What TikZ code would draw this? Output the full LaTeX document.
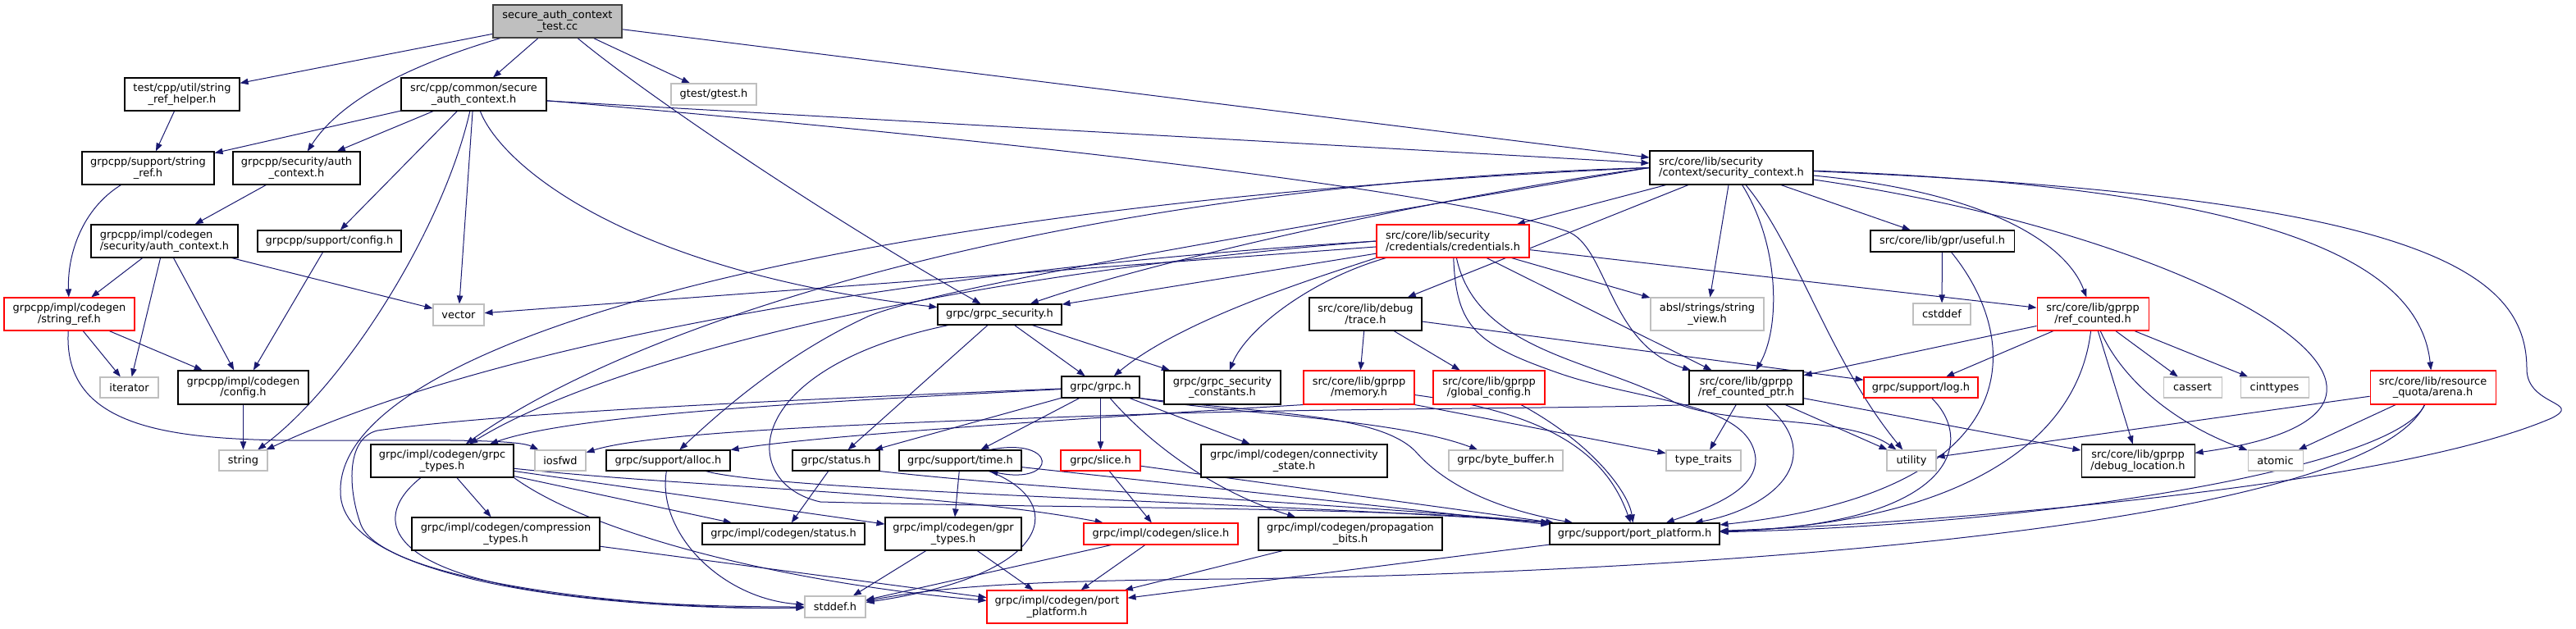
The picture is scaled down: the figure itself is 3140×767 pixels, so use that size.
\documentclass[tikz,border=0pt]{standalone}
\usepackage{fontspec}
\setmainfont{DejaVu Sans}
\usepackage{tikz}
\usetikzlibrary{arrows.meta,backgrounds}
\definecolor{edgeblue}{HTML}{191970}
\definecolor{truncred}{HTML}{FF0000}
\definecolor{sysgray}{HTML}{BFBFBF}
\definecolor{mainline}{HTML}{404040}
\tikzset{
  hdr/.style={draw=black, fill=white, line width=0.8pt, inner sep=0pt, align=center, font=\fontsize{9.7}{10.3}\selectfont},
  redhdr/.style={hdr, draw=truncred},
  syshdr/.style={hdr, draw=sysgray},
  mainhdr/.style={hdr, fill=sysgray, draw=mainline},
  sz/.style 2 args={minimum width=#1*0.75pt, minimum height=#2*0.75pt},
  dep/.style={draw=edgeblue, line width=0.75pt, -{Triangle[length=7.5pt,width=5.5pt]}}
}

\begin{document}
\begin{tikzpicture}[x=0.75pt,y=-0.75pt]
  \useasboundingbox (0,0) rectangle (3140,767);

  \node[mainhdr,sz={157}{40}] (test) at (679.5,26) {secure\_auth\_context\\\_test.cc};
  \node[hdr,sz={140}{40}] (helper) at (222,115) {test/cpp/util/string\\\_ref\_helper.h};
  \node[hdr,sz={177}{40}] (secctx) at (577.5,115) {src/cpp/common/secure\\\_auth\_context.h};
  \node[syshdr,sz={104}{26}] (gtest) at (870,115) {gtest/gtest.h};
  \node[hdr,sz={199}{41},align=left] (secctxcore) at (2110.5,204.5) {src/core/lib/security\\/context/security\_context.h};
  \node[hdr,sz={161}{40}] (ppstrref) at (180.5,205) {grpcpp/support/string\\\_ref.h};
  \node[hdr,sz={155}{40}] (ppauth) at (361.5,205) {grpcpp/security/auth\\\_context.h};
  \node[hdr,sz={179}{40},align=left] (cgauth) at (200.5,294) {grpcpp/impl/codegen\\/security/auth\_context.h};
  \node[hdr,sz={175}{26}] (ppconfig) at (401.5,294) {grpcpp/support/config.h};
  \node[redhdr,sz={159}{40}] (cgstrref) at (84.5,383) {grpcpp/impl/codegen\\/string\_ref.h};
  \node[syshdr,sz={62}{26}] (vector) at (559,384) {vector};
  \node[syshdr,sz={71}{25}] (iterator) at (157.5,472.5) {iterator};
  \node[hdr,sz={159}{41}] (cgconfig) at (296.5,472.5) {grpcpp/impl/codegen\\/config.h};
  \node[syshdr,sz={59}{25}] (string) at (296.5,561.5) {string};
  \node[hdr,sz={151}{25}] (grpcsec) at (1218.5,383.5) {grpc/grpc\_security.h};
  \node[redhdr,sz={186}{40},align=left] (creds) at (1771,294) {src/core/lib/security\\/credentials/credentials.h};
  \node[hdr,sz={137}{40}] (trace) at (1664.5,383) {src/core/lib/debug\\/trace.h};
  \node[syshdr,sz={138}{40}] (strview) at (2081,383) {absl/strings/string\\\_view.h};
  \node[hdr,sz={175}{26}] (useful) at (2367.5,294) {src/core/lib/gpr/useful.h};
  \node[syshdr,sz={70}{26}] (cstddef) at (2367,383) {cstddef};
  \node[redhdr,sz={136}{40}] (refc) at (2551,383) {src/core/lib/gprpp\\/ref\_counted.h};
  \node[redhdr,sz={153}{41}] (arena) at (2965.5,472.5) {src/core/lib/resource\\\_quota/arena.h};
  \node[hdr,sz={95}{26}] (grpch) at (1341.5,472) {grpc/grpc.h};
  \node[hdr,sz={142}{41}] (seccst) at (1490,472.5) {grpc/grpc\_security\\\_constants.h};
  \node[redhdr,sz={135}{41}] (memory) at (1656.5,472.5) {src/core/lib/gprpp\\/memory.h};
  \node[redhdr,sz={136}{41}] (gconfig) at (1815,472.5) {src/core/lib/gprpp\\/global\_config.h};
  \node[hdr,sz={139}{41}] (refptr) at (2128.5,472.5) {src/core/lib/gprpp\\/ref\_counted\_ptr.h};
  \node[redhdr,sz={139}{25}] (log) at (2341.5,472.5) {grpc/support/log.h};
  \node[syshdr,sz={71}{25}] (cassert) at (2672.5,472.5) {cassert};
  \node[syshdr,sz={83}{25}] (cinttypes) at (2772.5,472.5) {cinttypes};
  \node[hdr,sz={174}{40}] (gtypes) at (539,562) {grpc/impl/codegen/grpc\\\_types.h};
  \node[syshdr,sz={62}{25}] (iosfwd) at (683,561.5) {iosfwd};
  \node[hdr,sz={151}{25}] (alloc) at (814.5,561.5) {grpc/support/alloc.h};
  \node[hdr,sz={106}{25}] (status) at (1019,561.5) {grpc/status.h};
  \node[hdr,sz={149}{25}] (time) at (1170.5,561.5) {grpc/support/time.h};
  \node[redhdr,sz={97}{25}] (slice) at (1341.5,561.5) {grpc/slice.h};
  \node[hdr,sz={227}{40}] (conn) at (1577.5,562) {grpc/impl/codegen/connectivity\\\_state.h};
  \node[syshdr,sz={139}{25}] (bytebuf) at (1835.5,561.5) {grpc/byte\_buffer.h};
  \node[syshdr,sz={91}{25}] (typetraits) at (2076.5,561.5) {type\_traits};
  \node[syshdr,sz={60}{25}] (utility) at (2330,561.5) {utility};
  \node[hdr,sz={138}{40}] (dbgloc) at (2606,562) {src/core/lib/gprpp\\/debug\_location.h};
  \node[syshdr,sz={67}{25}] (atomic) at (2773.5,561.5) {atomic};
  \node[hdr,sz={229}{40}] (compr) at (616.5,651) {grpc/impl/codegen/compression\\\_types.h};
  \node[hdr,sz={198}{26}] (cgstatus) at (955,651) {grpc/impl/codegen/status.h};
  \node[hdr,sz={166}{40}] (gprtypes) at (1162,651) {grpc/impl/codegen/gpr\\\_types.h};
  \node[redhdr,sz={188}{26}] (cgslice) at (1415,651) {grpc/impl/codegen/slice.h};
  \node[hdr,sz={224}{40}] (prop) at (1646,651) {grpc/impl/codegen/propagation\\\_bits.h};
  \node[hdr,sz={207}{26}] (portsup) at (1992.5,651) {grpc/support/port\_platform.h};
  \node[syshdr,sz={74}{26}] (stddef) at (1018,740) {stddef.h};
  \node[redhdr,sz={171}{40}] (portcg) at (1288.5,740) {grpc/impl/codegen/port\\\_platform.h};

  \begin{scope}[on background layer]
    \foreach \a/\b in {test/helper, test/secctx, test/gtest, test/secctxcore,
      helper/ppstrref, secctx/ppstrref, secctx/ppauth, secctx/ppconfig, secctx/vector,
      ppauth/cgauth, ppconfig/cgconfig, cgauth/cgstrref, cgauth/iterator, cgauth/cgconfig,
      cgauth/vector, cgstrref/iterator, cgstrref/cgconfig, cgconfig/string,
      grpcsec/grpch, grpcsec/seccst, grpcsec/status, grpch/status, grpch/time, grpch/slice,
      grpch/conn, gtypes/compr, gtypes/cgstatus, gtypes/gprtypes, status/cgstatus,
      time/gprtypes, time/portsup, slice/cgslice, slice/portsup, gprtypes/stddef,
      gprtypes/portcg, cgslice/stddef, cgslice/portcg, prop/portcg, compr/portcg,
      portsup/portcg, creds/vector, creds/grpcsec, creds/strview, creds/refptr, creds/refc,
      secctxcore/creds, secctxcore/trace, secctxcore/strview, secctxcore/useful,
      trace/memory, trace/gconfig, trace/log, refptr/typetraits, refptr/utility,
      refptr/dbgloc, useful/cstddef, refc/refptr, refc/log, refc/dbgloc, refc/cassert,
      refc/cinttypes, arena/utility, arena/atomic}
      \draw[dep] (\a) -- (\b);

    \draw[dep] (test) .. controls (480,85) and (410,130) .. (ppauth);
    \draw[dep] (test) .. controls (780,110) and (1000,260) .. (grpcsec);
    \draw[dep] (secctx) .. controls (540,280) and (420,470) .. (string);
    \draw[dep] (secctx) .. controls (610,200) and (760,330) .. (grpcsec);
    \draw[dep] ([yshift=-6pt]secctx.east) -- (secctxcore);
    \draw[dep] (secctx) .. controls (1500,195) and (1820,250) .. (1910,282) .. controls (1960,300) and (1960,420) .. (refptr);
    \draw[dep] (ppstrref) .. controls (100,255) and (82,310) .. (cgstrref);
    \draw[dep] (cgstrref) .. controls (75,540) and (250,538) .. (440,537) .. controls (580,536) and (635,538) .. (iosfwd);

    \draw[dep] (secctxcore.west) .. controls (1750,240) and (1400,320) .. (grpcsec);
    \draw[dep] (secctxcore.west) .. controls (1300,225) and (780,390) .. (gtypes);
    \draw[dep] (secctxcore.west) .. controls (1500,290) and (1150,350) .. (1060,385) .. controls (960,430) and (880,500) .. (alloc);
    \draw[dep] (secctxcore.west) .. controls (1000,250) and (410,420) .. (415,600) .. controls (415,720) and (800,745) .. (stddef);
    \draw[dep] (secctxcore) .. controls (2170,300) and (2170,400) .. (refptr);
    \draw[dep] (secctxcore) .. controls (2190,300) and (2230,440) .. (utility);
    \draw[dep] (secctxcore) .. controls (2430,235) and (2520,300) .. (refc);
    \draw[dep] (secctxcore) .. controls (2800,230) and (2950,330) .. (arena);
    \draw[dep] (secctxcore) .. controls (2700,290) and (3050,500) .. (dbgloc);
    \draw[dep] (secctxcore) .. controls (2950,240) and (3080,330) .. (3080,450) .. controls (3080,495) and (3150,490) .. (3110,510) .. controls (2900,600) and (2300,640) .. (portsup);

    \draw[dep] (creds.west) .. controls (1100,330) and (600,420) .. (string);
    \draw[dep] (creds.west) .. controls (1100,340) and (720,450) .. (gtypes);
    \draw[dep] (creds.south west) .. controls (1600,340) and (1440,390) .. (grpch);
    \draw[dep] ([xshift=9pt]creds.south west) .. controls (1600,340) and (1520,400) .. (seccst);
    \draw[dep] (creds) .. controls (1775,400) and (1800,420) .. (1900,455) .. controls (2000,490) and (2135,490) .. (2140,560) .. controls (2140,600) and (2080,620) .. (portsup);
    \draw[dep] (creds) .. controls (1800,430) and (1950,440) .. (2040,490) .. controls (2100,520) and (2250,505) .. (utility);

    \draw[dep] (grpch) .. controls (1000,490) and (700,505) .. (gtypes);
    \draw[dep] (grpch) .. controls (900,490) and (600,505) .. (460,525) .. controls (420,535) and (425,600) .. (440,640) .. controls (470,715) and (820,745) .. (stddef);
    \draw[dep] (grpch.south east) .. controls (1500,505) and (1700,510) .. (bytebuf);
    \draw[dep] (grpch.south east) .. controls (1550,505) and (1680,505) .. (1725,550) .. controls (1760,590) and (1820,620) .. (portsup);
    \draw[dep] (grpch) .. controls (1400,540) and (1480,600) .. (prop);
    \draw[dep] (grpcsec) .. controls (900,450) and (900,590) .. (1000,612) .. controls (1300,620) and (1700,618) .. (portsup.north west);
    \draw[dep] (status.south east) .. controls (1300,600) and (1650,615) .. (portsup.north west);
    \draw[dep] (alloc) .. controls (950,600) and (1600,615) .. (portsup.north west);
    \draw[dep] (alloc) .. controls (800,650) and (880,730) .. (stddef);
    \draw[dep] (time.20) .. controls (1290,532) and (1290,592) .. (time.-20);
    \draw[dep] (time) .. controls (1300,610) and (1290,700) .. (stddef);
    \draw[dep] (gtypes) .. controls (850,595) and (1150,600) .. (cgslice);
    \draw[dep] (gtypes.south east) .. controls (720,650) and (950,710) .. (portcg);
    \draw[dep] (gtypes) .. controls (440,640) and (460,740) .. (stddef);

    \draw[dep] (memory.south west) .. controls (1400,505) and (1000,530) .. (alloc);
    \draw[dep] (memory.south east) -- (typetraits);
    \draw[dep] (memory) .. controls (1900,505) and (1960,560) .. (portsup);
    \draw[dep] (gconfig) .. controls (1940,540) and (1985,600) .. (portsup);
    \draw[dep] (refptr.south west) .. controls (1950,498) and (1600,498) .. (1400,505) .. controls (1100,515) and (800,525) .. (iosfwd);
    \draw[dep] (refptr) .. controls (2230,560) and (2160,620) .. (portsup);
    \draw[dep] (log) .. controls (2410,540) and (2380,640) .. (portsup);
    \draw[dep] (useful) .. controls (2470,420) and (2470,600) .. (portsup);
    \draw[dep] (refc) .. controls (2530,560) and (2350,640) .. (portsup);
    \draw[dep] (refc) .. controls (2590,470) and (2660,520) .. (atomic);
    \draw[dep] (arena) .. controls (2920,570) and (2500,640) .. (portsup);
    \draw[dep] (arena) .. controls (2880,650) and (2000,700) .. (1500,706) .. controls (1250,708) and (1150,715) .. (stddef);
  \end{scope}
\end{tikzpicture}
\end{document}
